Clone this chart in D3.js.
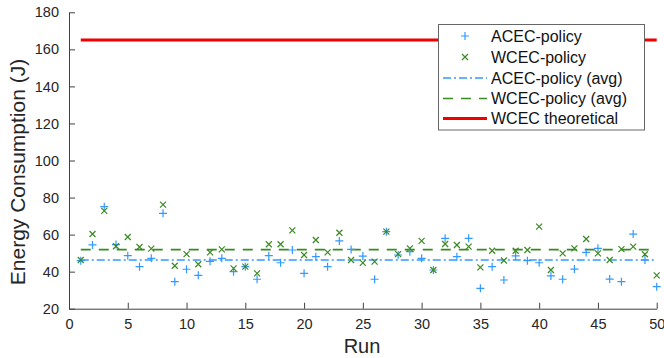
<!DOCTYPE html>
<html><head><meta charset="utf-8">
<script src="https://cdn.jsdelivr.net/npm/d3@7"></script>
<style>body{margin:0;background:#fff}svg{display:block}text{font-family:"Liberation Sans",Arial,sans-serif}</style>
</head><body><svg id="c" width="664" height="358"></svg>
<script>
const runs = d3.range(1, 51);
const acec = [45.9,54.4,75.1,54.6,48.6,42.7,47.2,71.5,34.6,41.3,38.0,45.6,47.2,40.0,42.7,35.9,48.6,44.8,51.7,39.1,48.1,42.7,56.6,52.0,48.4,35.9,61.6,49.0,50.8,47.2,40.9,58.0,48.1,58.0,31.0,42.7,35.5,48.5,45.9,44.8,37.7,35.9,41.4,50.4,52.6,36.0,34.6,60.3,46.3,31.9];
const wcec = [46.3,60.3,72.8,53.7,58.7,53.3,52.4,76.2,43.2,49.5,44.0,50.4,52.0,41.8,42.7,39.1,54.8,54.8,62.3,49.0,57.1,50.4,61.0,46.3,44.7,45.4,61.6,49.5,52.6,56.6,40.9,54.9,54.4,53.5,42.3,51.3,46.0,51.3,51.7,64.3,40.9,49.9,52.6,57.6,49.9,46.3,52.2,53.5,49.4,38.0];
const acecAvg = 46.3, wcecAvg = 51.9, wcecTheo = 165;
const xTicks = [0,5,10,15,20,25,30,35,40,45,50];
const yTicks = [20,40,60,80,100,120,140,160,180];
const legendLabels = ["ACEC-policy","WCEC-policy","ACEC-policy (avg)","WCEC-policy (avg)","WCEC theoretical"];

const blue = "#3399ff", green = "#3a8a22", red = "#f20000", axc = "#404040";
const svg = d3.select("#c");
const x = d3.scaleLinear().domain([0,50]).range([69,656.7]);
const y = d3.scaleLinear().domain([20,180]).range([308.7,12.3]);

// axes
const xa = svg.append("g").attr("transform","translate(0,308.7)")
  .call(d3.axisBottom(x).tickValues(xTicks).tickSizeInner(-6).tickSizeOuter(0).tickPadding(10));
const ya = svg.append("g").attr("transform","translate(69,0)")
  .call(d3.axisLeft(y).tickValues(yTicks).tickSizeInner(-6).tickSizeOuter(0).tickPadding(10));
[xa,ya].forEach(a=>{
  a.selectAll("path,line").attr("stroke",axc).attr("stroke-width",1);
  a.selectAll("text").attr("fill","#262626").style("font-size","14.5px").style("font-family","'Liberation Sans',Arial,sans-serif");
});

// lines
const lineAt = (v,color,w,dash)=>svg.append("line").attr("x1",x(1)).attr("x2",x(50))
  .attr("y1",y(v)).attr("y2",y(v)).attr("stroke",color).attr("stroke-width",w).attr("stroke-dasharray",dash||null);
lineAt(wcecTheo, red, 3);
lineAt(acecAvg, blue, 1.6, "8,3,2,3");
lineAt(wcecAvg, green, 1.6, "10,8");

// markers
const plus = (g,cx,cy,s,c)=>{g.append("path").attr("d",`M${cx-s},${cy}H${cx+s}M${cx},${cy-s}V${cy+s}`).attr("stroke",c).attr("stroke-width",1.2).attr("fill","none");};
const cross = (g,cx,cy,s,c)=>{g.append("path").attr("d",`M${cx-s},${cy-s}L${cx+s},${cy+s}M${cx-s},${cy+s}L${cx+s},${cy-s}`).attr("stroke",c).attr("stroke-width",1.2).attr("fill","none");};
const gp = svg.append("g");
runs.forEach((r,i)=>{ plus(gp,x(r),y(acec[i]),4,blue); });
runs.forEach((r,i)=>{ cross(gp,x(r),y(wcec[i]),3,green); });

// legend
const lg = svg.append("g");
lg.append("rect").attr("x",438.5).attr("y",24.5).attr("width",206).attr("height",105.5).attr("fill","#fff").attr("stroke","#666").attr("stroke-width",1);
const ly = [36,57,78,98.5,118.5];
legendLabels.forEach((t,i)=>{
  lg.append("text").attr("x",491).attr("y",ly[i]).attr("dy","0.35em").attr("fill","#111").style("font-size","16px").text(t);
});
plus(lg,465,ly[0],4,blue);
cross(lg,465,ly[1],3,green);
lg.append("line").attr("x1",443).attr("x2",487).attr("y1",ly[2]).attr("y2",ly[2]).attr("stroke",blue).attr("stroke-width",1.6).attr("stroke-dasharray","8,3,2,3");
lg.append("line").attr("x1",443).attr("x2",487).attr("y1",ly[3]).attr("y2",ly[3]).attr("stroke",green).attr("stroke-width",1.6).attr("stroke-dasharray","10,8");
lg.append("line").attr("x1",443).attr("x2",487).attr("y1",ly[4]).attr("y2",ly[4]).attr("stroke",red).attr("stroke-width",3);

// axis titles
svg.append("text").attr("x",362).attr("y",353).attr("text-anchor","middle").attr("fill","#262626").style("font-size","20px").text("Run");
svg.append("text").attr("transform","translate(24.5,172) rotate(-90)").attr("text-anchor","middle").attr("fill","#262626").style("font-size","21px").text("Energy Consumption (J)");
</script></body></html>
